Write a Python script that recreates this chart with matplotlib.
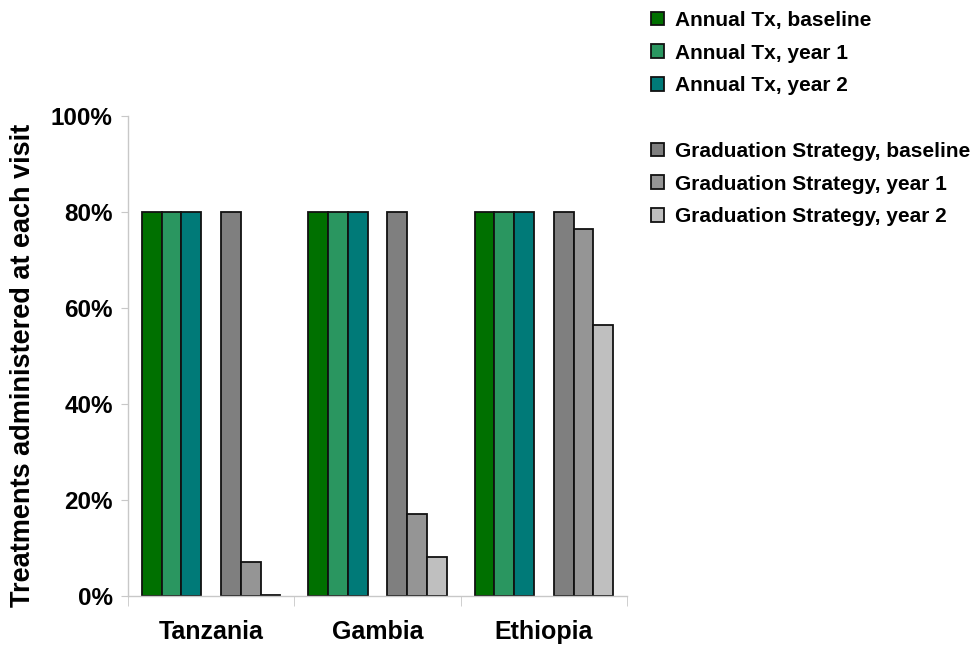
import numpy as np
import matplotlib.pyplot as plt
from matplotlib.patches import Patch
from matplotlib.ticker import PercentFormatter

plt.rcParams['font.family'] = ['Liberation Sans', 'DejaVu Sans']
plt.rcParams['font.weight'] = 'bold'

countries = ['Tanzania', 'Gambia', 'Ethiopia']

# percent of treatments administered at each visit
annual_baseline = [80, 80, 80]
annual_year1 = [80, 80, 80]
annual_year2 = [80, 80, 80]
grad_baseline = [80, 80, 80]
grad_year1 = [7.1, 17.1, 76.5]
grad_year2 = [0.3, 8.2, 56.5]

series = [
    ('Annual Tx, baseline', annual_baseline, '#007000'),
    ('Annual Tx, year 1', annual_year1, '#2a9660'),
    ('Annual Tx, year 2', annual_year2, '#007a78'),
    (None, None, None),  # empty slot between the two groups
    ('Graduation Strategy, baseline', grad_baseline, '#7f7f7f'),
    ('Graduation Strategy, year 1', grad_year1, '#959595'),
    ('Graduation Strategy, year 2', grad_year2, '#bfbfbf'),
]

fig = plt.figure(figsize=(9.75, 6.51), dpi=100)
ax = fig.add_axes([128 / 975, 1 - 596 / 651, 499 / 975, 480 / 651])

x = np.arange(len(countries))
width = 0.119
handles = []
for i, (label, vals, color) in enumerate(series):
    if label is None:
        handles.append(Patch(facecolor='none', edgecolor='none', label=' '))
        continue
    offset = (i - 3) * width
    ax.bar(x + offset, vals, width, color=color, edgecolor='#111111', linewidth=1.3)
    handles.append(Patch(facecolor=color, edgecolor='#111111', linewidth=1.3, label=label))

ax.set_xlim(-0.5, 2.5)
ax.set_ylim(0, 100)
ax.yaxis.set_major_formatter(PercentFormatter(decimals=0))
ax.set_yticks([0, 20, 40, 60, 80, 100])
ax.set_xticks(x)
ax.set_xticklabels(countries, fontsize=18, fontweight='bold')
ax.set_xticks([-0.5, 0.5, 1.5, 2.5], minor=True)
ax.tick_params(axis='x', which='major', length=0, pad=17)
ax.tick_params(axis='x', which='minor', length=7, color='#c8c8c8', direction='out')
ax.tick_params(axis='y', length=5, color='#c8c8c8', labelsize=17.5, pad=6)

for side in ['top', 'right']:
    ax.spines[side].set_visible(False)
for side in ['left', 'bottom']:
    ax.spines[side].set_color('#c8c8c8')
    ax.spines[side].set_linewidth(1.0)

ax.set_ylabel('Treatments administered at each visit', fontsize=19.5, fontweight='bold')
ax.yaxis.set_label_coords(-0.185, 0.48)

fig.legend(handles=handles, loc='upper left', bbox_to_anchor=(640 / 975, 1.0),
           frameon=False, fontsize=15, handlelength=0.65, handleheight=0.65,
           handletextpad=0.5, labelspacing=0.66, borderaxespad=0.12)

fig.savefig('out.png', dpi=100)
